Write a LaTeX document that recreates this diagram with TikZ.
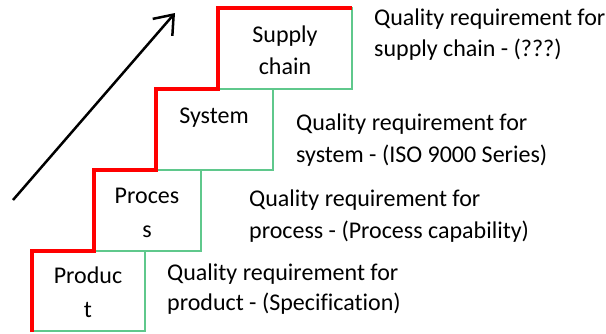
\documentclass[tikz,border=0pt]{standalone}
\usepackage{fontspec}
\setmainfont[Ligatures=NoCommon]{Carlito}
\usetikzlibrary{arrows.meta}
\definecolor{stepgreen}{RGB}{95,200,140}
\definecolor{stepred}{RGB}{255,0,0}
\begin{document}
\begin{tikzpicture}[x=1pt,y=-1pt,
  stepbox/.style={draw=stepgreen,line width=1.5pt},
  lbl/.style={inner sep=0pt,anchor=base,font=\fontsize{24}{30}\selectfont},
  req/.style={inner sep=0pt,anchor=base west,font=\fontsize{24}{30}\selectfont}]
\useasboundingbox (0,0) rectangle (606,333);
% the four steps
\draw[stepbox] (32,251) rectangle (145,331);
\draw[stepbox] (94,170) rectangle (201,251);
\draw[stepbox] (156,89) rectangle (273,170);
\draw[stepbox] (218,8) rectangle (352,89);
% red staircase edge
\draw[stepred,line width=3.2pt,line join=miter]
  (32,332) -- (32,251) -- (94,251) -- (94,170) -- (156,170) -- (156,89)
  -- (218,89) -- (218,8) -- (352,8);
% step labels
\node[lbl] (prod1) at (88,283) {Produc};
\node[lbl] (prod2) at (88,317) {t};
\node[lbl] (proc1) at (147,203) {Proces};
\node[lbl] (proc2) at (147,237) {s};
\node[lbl] (sys) at (214,123) {System};
\node[lbl] (sup1) at (285,42) {Supply};
\node[lbl] (sup2) at (285,74) {chain};
% requirement texts
\node[req] (r4a) at (374,25) {Quality requirement for};
\node[req] (r4b) at (374,56) {supply chain - (???)};
\node[req] (r3a) at (296,130) {Quality requirement for};
\node[req] (r3b) at (296,162) {system - (ISO 9000 Series)};
\node[req] (r2a) at (249,206) {Quality requirement for};
\node[req] (r2b) at (249,238) {process - (Process capability)};
\node[req] (r1a) at (167,280) {Quality requirement for};
\node[req] (r1b) at (167,310) {product - (Specification)};
% rising arrow
\coordinate (aS) at (13,200);
\coordinate (aE) at (175,13);
\draw[line width=2.5pt,-{Straight Barb[length=17pt,width=26pt,line width=2.5pt]}] (aS) -- (aE);
\end{tikzpicture}
\end{document}
